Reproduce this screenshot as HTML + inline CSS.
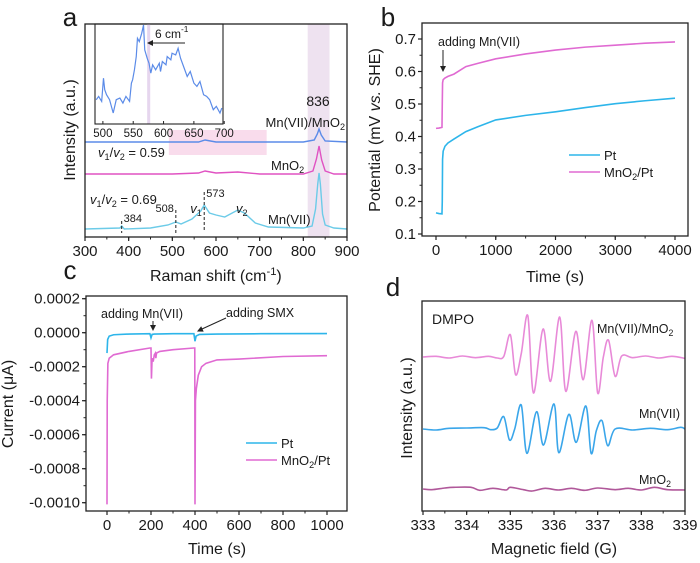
<!DOCTYPE html>
<html><head><meta charset="utf-8">
<style>
html,body{margin:0;padding:0;background:#fff;}
svg{display:block;font-family:"Liberation Sans",Arial,sans-serif;}
</style></head>
<body>
<svg id="fig" width="700" height="563" viewBox="0 0 700 563" xmlns="http://www.w3.org/2000/svg"></svg>
<script>
// ---------- Panel a data (Raman) ----------
const ramanMn7Shift=[300,380,384,390,450,490,508,520,545,565,573,585,600,620,650,665,690,720,800,820,828,833,836,839,844,850,870,900];
const ramanMn7Int=[0,1,3,0,1,4,7,5,10,18,24,16,14,12,19,16,6,2,1,3,20,45,56,45,15,4,1,0];
const ramanMnO2Shift=[300,500,560,575,600,650,700,800,822,830,836,842,850,870,900];
const ramanMnO2Int=[0,0,1,3,1,2,0,0,3,15,28,14,3,0,0];
const ramanMixShift=[300,560,575,600,700,800,825,832,836,841,850,900];
const ramanMixInt=[0,0,2,0,0,0,2,8,13,7,1,0];
const insetShift=[489,493,498,501,503,506,511,517,522,528,533,538,544,547,549,552,555,557,560,564,567,569,573,576,579,582,587,593,595,598,604,606,612,614,620,624,628,633,639,644,650,655,660,666,671,676,682,687,693,696];
const insetInt=[100,110,95,165,130,115,100,60,100,105,90,110,95,150,160,190,230,285,275,300,325,250,225,210,180,205,190,210,185,215,205,230,220,240,235,255,225,200,170,185,150,140,155,115,110,100,70,80,60,75];
const ramanTicks=[300,400,500,600,700,800,900];
const insetTicks=[500,550,600,650,700];
// ---------- Panel b data ----------
const potT=[0,50,100,105,110,120,150,200,300,500,700,1000,1500,2000,2500,3000,3500,4000];
const potPt=[0.165,0.163,0.162,0.2,0.33,0.355,0.37,0.38,0.392,0.415,0.43,0.451,0.465,0.476,0.489,0.501,0.51,0.518];
const potMnO2=[0.425,0.426,0.428,0.5,0.565,0.575,0.58,0.585,0.592,0.615,0.625,0.639,0.654,0.666,0.675,0.681,0.687,0.691];
const potXTicks=[0,1000,2000,3000,4000];
const potYTicks=[0.1,0.2,0.3,0.4,0.5,0.6,0.7];
// ---------- Panel c data ----------
const curPtT=[0,3,10,30,100,195,200,205,215,300,395,400,405,420,500,700,1000];
const curPtI=[-0.00012,-0.00004,-0.00002,-0.000012,-0.000008,-0.000006,-0.00003,-0.00001,-0.000008,-0.000006,-0.000006,-0.00005,-0.00002,-0.00001,-0.000008,-0.000006,-0.000005];
const curMnT=[0,1,4,10,30,100,195,200,202,205,210,215,220,222,225,240,300,395,399,400,402,406,415,430,450,500,600,800,1000];
const curMnI=[-0.00101,-0.0004,-0.00018,-0.00015,-0.00013,-0.00011,-0.00009,-0.00009,-0.00027,-0.00015,-0.00017,-0.00013,-0.00012,-0.00015,-0.00012,-0.00011,-0.0001,-0.00009,-0.00009,-0.00101,-0.0004,-0.00033,-0.00025,-0.0002,-0.00018,-0.00016,-0.000155,-0.00014,-0.000135];
const curXTicks=[0,200,400,600,800,1000];
const curYTicks=[0.0002,0,-0.0002,-0.0004,-0.0006,-0.0008,-0.0010];
const curYLabels=["0.0002","0.0000","-0.0002","-0.0004","-0.0006","-0.0008","-0.0010"];
// ---------- Panel d data (ESR) ----------
const esrMixField=[333,333.3,333.6,333.9,334.2,334.5,334.7,334.85,335.0,335.12,335.25,335.4,335.53,335.75,335.92,336.13,336.27,336.5,336.67,336.87,337.0,337.13,337.25,337.4,337.55,337.8,338.1,338.4,338.7,339];
const esrMixInt=[0,2,-3,3,-2,2,-3,2,67,-53,10,124,-108,84,-73,120,-103,77,-68,110,-108,0,50,-58,3,-2,3,-3,2,-4];
const esrMn7Field=[333,333.3,333.6,334.0,334.4,334.55,334.7,334.85,334.98,335.1,335.25,335.38,335.6,335.76,336.0,336.11,336.34,336.51,336.73,336.85,336.97,337.1,337.23,337.4,337.8,338.2,338.6,338.9,339];
const esrMn7Int=[0,-3,2,3,4,-2,3,37,-33,0,72,-73,52,-48,75,-71,44,-40,69,-73,-5,25,-50,0,-3,2,-2,5,0];
const esrMnO2Field=[333,333.2,333.5,333.7,334.1,334.3,334.6,334.9,335.0,335.3,335.5,335.8,336.1,336.4,336.7,337.0,337.4,337.7,338.0,338.3,338.6,339];
const esrMnO2Int=[0,-2,3,5,5,-4,2,-3,5,-2,-6,2,-3,2,-4,3,-2,2,-3,5,-2,-3];
const esrTicks=[333,334,335,336,337,338,339];

const svg=document.getElementById('fig');
const NS='http://www.w3.org/2000/svg';
function mk(tag,attrs,parent){const e=document.createElementNS(NS,tag);for(const k in attrs)e.setAttribute(k,attrs[k]);(parent||svg).appendChild(e);return e;}
function txt(x,y,s,size,anchor,parent,name){const t=mk('text',{x:x,y:y,'font-size':size,'text-anchor':anchor||'middle',fill:'#1a1a1a'},parent);t.textContent=s;return t;}
function lin(d0,d1,p0,p1){return v=>p0+(v-d0)*(p1-p0)/(d1-d0);}
function linePath(xs,ys,sx,sy){return xs.map((x,i)=>(i?'L':'M')+sx(x).toFixed(2)+','+sy(ys[i]).toFixed(2)).join('');}
function smoothPath(xs,ys,sx,sy){const p=xs.map((x,i)=>[sx(x),sy(ys[i])]);let d='M'+p[0][0]+','+p[0][1];for(let i=0;i<p.length-1;i++){const p0=p[i-1]||p[i],p1=p[i],p2=p[i+1],p3=p[i+2]||p2;const c1=[p1[0]+(p2[0]-p0[0])/6,p1[1]+(p2[1]-p0[1])/6],c2=[p2[0]-(p3[0]-p1[0])/6,p2[1]-(p3[1]-p1[1])/6];d+='C'+c1[0].toFixed(2)+','+c1[1].toFixed(2)+' '+c2[0].toFixed(2)+','+c2[1].toFixed(2)+' '+p2[0].toFixed(2)+','+p2[1].toFixed(2);}return d;}
function box(x0,y0,x1,y1,g){const r=mk('rect',{x:x0,y:y0,width:x1-x0,height:y1-y0,fill:'none',stroke:'#222','stroke-width':1.3},g);}
function xTicks(ticks,minorStep,sx,y,g,size,fmt,lo,hi){ticks.forEach(v=>{mk('line',{x1:sx(v),x2:sx(v),y1:y,y2:y+4,stroke:'#222','stroke-width':1.2},g);const t=txt(sx(v),y+19,fmt?fmt(v):String(v),size,'middle',g,'x-tick-label');});
 if(minorStep){for(let v=lo;v<=hi+1e-9;v+=minorStep){mk('line',{x1:sx(v),x2:sx(v),y1:y,y2:y+2.5,stroke:'#222','stroke-width':1},g);}}}
function yTicks(ticks,labels,minorStep,sy,x,g,size,lo,hi){ticks.forEach((v,i)=>{mk('line',{x1:x-4,x2:x,y1:sy(v),y2:sy(v),stroke:'#222','stroke-width':1.2},g);txt(x-6,sy(v)+5,labels[i],size,'end',g,'y-tick-label');});
 if(minorStep){for(let v=lo;v<=hi+1e-12;v+=minorStep){mk('line',{x1:x-2.5,x2:x,y1:sy(v),y2:sy(v),stroke:'#222','stroke-width':1},g);}}}
function rotTitle(x,y,s,size,g,name){const t=txt(x,y,s,size,'middle',g,name);t.setAttribute('transform','rotate(-90 '+x+' '+y+')');return t;}
function sub(parent,main,subs){} 
function richText(x,y,parts,size,anchor,g,name){const t=mk('text',{x:x,y:y,'font-size':size,'text-anchor':anchor||'start',fill:'#1a1a1a'},g);parts.forEach(p=>{const s=mk('tspan',{},t);if(p.sub){s.setAttribute('font-size',size*0.7);s.setAttribute('dy',3);}if(p.sup){s.setAttribute('font-size',size*0.7);s.setAttribute('dy',-6);}if(p.back){s.setAttribute('dy',p.back);}if(p.it)s.setAttribute('font-style','italic');s.textContent=p.t;});return t;}
function arrowHead(x,y,ang,g){const a=ang*Math.PI/180,l=6,w=3;const p=[[x,y],[x-l*Math.cos(a)+w*Math.sin(a),y-l*Math.sin(a)-w*Math.cos(a)],[x-l*Math.cos(a)-w*Math.sin(a),y-l*Math.sin(a)+w*Math.cos(a)]];mk('polygon',{points:p.map(q=>q.join(',')).join(' '),fill:'#222'},g);}

// ================= Panel a =================
(function(){
 const g=mk('g',{});
 const L=85,R=347,T=24,B=237;
 const sx=lin(300,900,L,R);
 const band=mk('rect',{x:sx(810),y:T,width:sx(860)-sx(810),height:B-T,fill:'#eee2f0'},g);
 const pr=mk('rect',{x:sx(492),y:130,width:sx(716)-sx(492),height:25,fill:'#f9dcec'},g);
 const series=[[ramanMixShift,ramanMixInt,142,'#5b8be8','trace-mn7-mno2'],[ramanMnO2Shift,ramanMnO2Int,174,'#e052c2','trace-mno2'],[ramanMn7Shift,ramanMn7Int,229,'#6ccbe8','trace-mn7']];
 series.forEach(s=>{const sy=v=>s[2]-v;const p=mk('path',{d:linePath(s[0],s[1],sx,sy),fill:'none',stroke:s[3],'stroke-width':1.4},g);});
 // dashed markers
 [[384,221,233],[508,210,234],[573,192,232]].forEach(d=>{const l=mk('line',{x1:sx(d[0]),x2:sx(d[0]),y1:d[1],y2:d[2],stroke:'#222','stroke-width':1,'stroke-dasharray':'3,2'},g);});
 txt(sx(384)+2,222,'384',11,'start',g,'peak-label-384');
 txt(sx(508)-2,212,'508',11,'end',g,'peak-label-508');
 txt(sx(573)+2,197,'573',11,'start',g,'peak-label-573');
 richText(sx(573)-14,213,[{t:'v',it:1},{t:'1',sub:1}],13,'start',g,'v1-label');
 richText(236,213,[{t:'v',it:1},{t:'2',sub:1}],13,'start',g,'v2-label');
 richText(98,157,[{t:'v',it:1},{t:'1',sub:1},{t:'/',back:-3},{t:'v',it:1},{t:'2',sub:1},{t:' = 0.59',back:-3}],13,'start',g,'ratio-label-mix');
 richText(90,204,[{t:'v',it:1},{t:'1',sub:1},{t:'/',back:-3},{t:'v',it:1},{t:'2',sub:1},{t:' = 0.69',back:-3}],13,'start',g,'ratio-label-mn7');
 txt(318,106,'836',14,'middle',g,'peak-label-836');
 richText(345,127,[{t:'Mn(VII)/MnO'},{t:'2',sub:1}],13,'end',g,'legend-mn7-mno2');
 richText(271,170,[{t:'MnO'},{t:'2',sub:1}],13,'start',g,'legend-mno2');
 txt(268,224,'Mn(VII)',13,'start',g,'legend-mn7');
 box(L,T,R,B,g);
 xTicks(ramanTicks,50,sx,B,g,15,null,300,900);
 txt(216,280,'',16,'middle',g,'x-axis-title');
 richText(150,281,[{t:'Raman shift (cm'},{t:'-1',sup:1},{t:')',back:6}],16,'start',g,'x-axis-title');
 rotTitle(75,130,'Intensity (a.u.)',16,g,'y-axis-title');
 txt(70,26,'a',26,'middle',g,'panel-label-a');
 // inset
 const iL=95,iR=223,iT=24,iB=124;
 const ix=lin(487,698,iL,iR),iy=lin(60,325,113,25);
 const ib=mk('rect',{x:ix(573),y:iT,width:ix(578)-ix(573),height:iB-iT,fill:'#e6d6ee'},g);
 const ip=mk('path',{d:linePath(insetShift,insetInt,ix,iy),fill:'none',stroke:'#5b8be8','stroke-width':1.2},g);
 const ibx=mk('rect',{x:iL,y:iT,width:iR-iL,height:iB-iT,fill:'none',stroke:'#222','stroke-width':1.1},g);
 insetTicks.forEach(v=>{mk('line',{x1:ix(v),x2:ix(v),y1:iB,y2:iB-3,stroke:'#222'},g);txt(ix(v),iB+13,String(v),11.5,'middle',g,'inset-tick-label');});
 mk('line',{x1:185,y1:43,x2:151,y2:43,stroke:'#222','stroke-width':1},g);arrowHead(147,43,180,g);
 richText(155,38,[{t:'6 cm'},{t:'-1',sup:1}],12,'start',g,'shift-annotation');
 svg.appendChild(g);
})();

// ================= Panel b =================
(function(){
 const g=mk('g',{});
 const L=422,R=688,T=23,B=236;
 const sx=lin(0,4000,436,675),sy=lin(0.1,0.7,234,39);
 const p1=mk('path',{d:linePath(potT,potPt,sx,sy),fill:'none',stroke:'#2db5ea','stroke-width':1.6},g);
 const p2=mk('path',{d:linePath(potT,potMnO2,sx,sy),fill:'none',stroke:'#e06ad2','stroke-width':1.6},g);
 box(L,T,R,B,g);
 xTicks(potXTicks,500,sx,B,g,15,null,0,4000);
 yTicks(potYTicks,potYTicks.map(v=>v.toFixed(1)),0.05,sy,L,g,15,0.1,0.7);
 txt(555,282,'Time (s)',16,'middle',g,'x-axis-title');
 const yt=mk('text',{x:380,y:130,'font-size':16,'text-anchor':'middle',fill:'#1a1a1a',transform:'rotate(-90 380 130)'},g);
 
 [['Potential (mV ',0],['vs.',1],[' SHE)',0]].forEach(p=>{const s=mk('tspan',{},yt);if(p[1])s.setAttribute('font-style','italic');s.textContent=p[0];});
 txt(388,26,'b',26,'middle',g,'panel-label-b');
 txt(438,46,'adding Mn(VII)',12.5,'start',g,'annotation-adding-mn7');
 mk('line',{x1:443,y1:50,x2:443,y2:66,stroke:'#222','stroke-width':1},g);arrowHead(443,72,90,g);
 const l1=mk('line',{x1:569,x2:600,y1:155,y2:155,stroke:'#2db5ea','stroke-width':1.6},g);
 const l2=mk('line',{x1:569,x2:600,y1:172,y2:172,stroke:'#e06ad2','stroke-width':1.6},g);
 txt(604,160,'Pt',13,'start',g,'legend-label-pt');
 richText(604,177,[{t:'MnO'},{t:'2',sub:1},{t:'/Pt',back:-3}],13,'start',g,'legend-label-mno2-pt');
 svg.appendChild(g);
})();

// ================= Panel c =================
(function(){
 const g=mk('g',{});
 const L=86,R=347,T=296,B=511;
 const sx=lin(0,1000,107,327),sy=lin(0,-0.0010,332.7,502.7);
 const p2=mk('path',{d:linePath(curMnT,curMnI,sx,sy),fill:'none',stroke:'#e06ad2','stroke-width':1.6},g);
 const p1=mk('path',{d:linePath(curPtT,curPtI,sx,sy),fill:'none',stroke:'#2db5ea','stroke-width':1.6},g);
 box(L,T,R,B,g);
 xTicks(curXTicks,100,sx,B,g,15,null,-0,1000);
 yTicks(curYTicks,curYLabels,0.0001,sy,L,g,15,-0.0010,0.0002);
 txt(217,554,'Time (s)',16,'middle',g,'x-axis-title');
 rotTitle(13,404,'Current (μA)',16,g,'y-axis-title');
 txt(70,279,'c',26,'middle',g,'panel-label-c');
 txt(101,318,'adding Mn(VII)',12.5,'start',g,'annotation-adding-mn7');
 mk('line',{x1:153,y1:321,x2:153,y2:326,stroke:'#222'},g);arrowHead(153,331,90,g);
 txt(226,317,'adding SMX',12.5,'start',g,'annotation-adding-smx');
 mk('line',{x1:226,y1:318,x2:202,y2:329,stroke:'#222'},g);arrowHead(197,331.5,155,g);
 const l1=mk('line',{x1:246,x2:277,y1:443,y2:443,stroke:'#2db5ea','stroke-width':1.6},g);
 const l2=mk('line',{x1:246,x2:277,y1:460,y2:460,stroke:'#e06ad2','stroke-width':1.6},g);
 txt(281,448,'Pt',13,'start',g,'legend-label-pt');
 richText(281,465,[{t:'MnO'},{t:'2',sub:1},{t:'/Pt',back:-3}],13,'start',g,'legend-label-mno2-pt');
 svg.appendChild(g);
})();

// ================= Panel d =================
(function(){
 const g=mk('g',{});
 const L=422,R=685,T=301,B=511;
 const sx=lin(333,339,423,685);
 const s=[[esrMixField,esrMixInt,357,'#e88ad8','trace-mn7-mno2'],[esrMn7Field,esrMn7Int,429,'#3aa6ea','trace-mn7'],[esrMnO2Field,esrMnO2Int,489,'#b0589a','trace-mno2']];
 s.forEach(q=>{const sy=v=>q[2]-v/3;const p=mk('path',{d:smoothPath(q[0],q[1],sx,sy),fill:'none',stroke:q[3],'stroke-width':1.6},g);});
 box(L,T,R,B,g);
 xTicks(esrTicks,0.5,sx,B,g,15,null,333,339);
 txt(554,554,'Magnetic field (G)',16,'middle',g,'x-axis-title');
 rotTitle(412,408,'Intensity (a.u.)',16,g,'y-axis-title');
 txt(393,296,'d',26,'middle',g,'panel-label-d');
 txt(432,324,'DMPO',14,'start',g,'dmpo-label');
 richText(597,333,[{t:'Mn(VII)/MnO'},{t:'2',sub:1}],12.5,'start',g,'label-mn7-mno2');
 txt(680,418,'Mn(VII)',12.5,'end',g,'label-mn7');
 richText(639,484,[{t:'MnO'},{t:'2',sub:1}],12.5,'start',g,'label-mno2');
 svg.appendChild(g);
})();
</script>
</body></html>
